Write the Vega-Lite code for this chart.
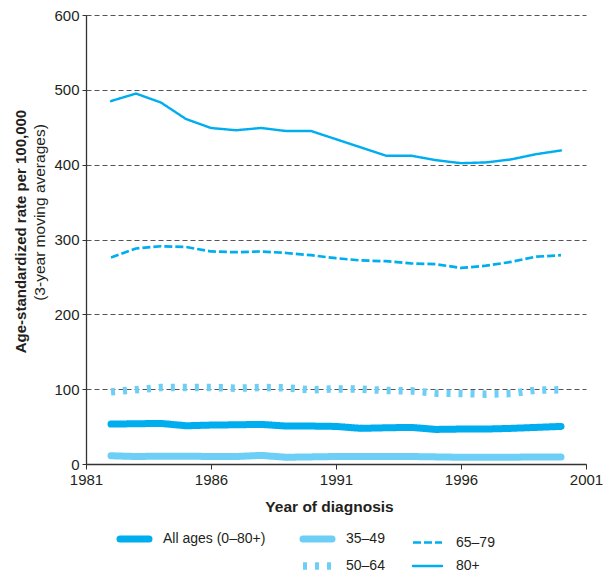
{
  "$schema": "https://vega.github.io/schema/vega-lite/v6.json",
  "width": 500,
  "height": 449,
  "autosize": "none",
  "padding": {"left": 86, "top": 15, "right": 17, "bottom": 111},
  "background": "white",
  "config": {
    "font": "Liberation Sans, Arial, sans-serif",
    "view": {"stroke": null},
    "axis": {
      "domainColor": "#333333",
      "domainWidth": 1.3,
      "tickColor": "#333333",
      "labelColor": "#231f20",
      "titleColor": "#231f20",
      "gridColor": "#555555",
      "gridDash": [5, 3],
      "gridWidth": 1
    }
  },
  "data": {
    "values": [
      {"year": 1982, "series": "80+", "rate": 485},
      {"year": 1983, "series": "80+", "rate": 495},
      {"year": 1984, "series": "80+", "rate": 483},
      {"year": 1985, "series": "80+", "rate": 461},
      {"year": 1986, "series": "80+", "rate": 449},
      {"year": 1987, "series": "80+", "rate": 446},
      {"year": 1988, "series": "80+", "rate": 449},
      {"year": 1989, "series": "80+", "rate": 445},
      {"year": 1990, "series": "80+", "rate": 445},
      {"year": 1991, "series": "80+", "rate": 434},
      {"year": 1992, "series": "80+", "rate": 423},
      {"year": 1993, "series": "80+", "rate": 412},
      {"year": 1994, "series": "80+", "rate": 412},
      {"year": 1995, "series": "80+", "rate": 406},
      {"year": 1996, "series": "80+", "rate": 402},
      {"year": 1997, "series": "80+", "rate": 403},
      {"year": 1998, "series": "80+", "rate": 407},
      {"year": 1999, "series": "80+", "rate": 414},
      {"year": 2000, "series": "80+", "rate": 419},
      {"year": 1982, "series": "65–79", "rate": 276},
      {"year": 1983, "series": "65–79", "rate": 288},
      {"year": 1984, "series": "65–79", "rate": 291},
      {"year": 1985, "series": "65–79", "rate": 290},
      {"year": 1986, "series": "65–79", "rate": 284},
      {"year": 1987, "series": "65–79", "rate": 283},
      {"year": 1988, "series": "65–79", "rate": 284},
      {"year": 1989, "series": "65–79", "rate": 282},
      {"year": 1990, "series": "65–79", "rate": 279},
      {"year": 1991, "series": "65–79", "rate": 275},
      {"year": 1992, "series": "65–79", "rate": 272},
      {"year": 1993, "series": "65–79", "rate": 271},
      {"year": 1994, "series": "65–79", "rate": 268},
      {"year": 1995, "series": "65–79", "rate": 267},
      {"year": 1996, "series": "65–79", "rate": 262},
      {"year": 1997, "series": "65–79", "rate": 265},
      {"year": 1998, "series": "65–79", "rate": 270},
      {"year": 1999, "series": "65–79", "rate": 277},
      {"year": 2000, "series": "65–79", "rate": 279},
      {"year": 1982, "series": "50–64", "rate": 96.4},
      {"year": 1983, "series": "50–64", "rate": 99.3},
      {"year": 1984, "series": "50–64", "rate": 102.2},
      {"year": 1985, "series": "50–64", "rate": 102.2},
      {"year": 1986, "series": "50–64", "rate": 102.2},
      {"year": 1987, "series": "50–64", "rate": 101.3},
      {"year": 1988, "series": "50–64", "rate": 102.2},
      {"year": 1989, "series": "50–64", "rate": 101.8},
      {"year": 1990, "series": "50–64", "rate": 99.1},
      {"year": 1991, "series": "50–64", "rate": 100.4},
      {"year": 1992, "series": "50–64", "rate": 100},
      {"year": 1993, "series": "50–64", "rate": 98.2},
      {"year": 1994, "series": "50–64", "rate": 97.8},
      {"year": 1995, "series": "50–64", "rate": 94.7},
      {"year": 1996, "series": "50–64", "rate": 94.2},
      {"year": 1997, "series": "50–64", "rate": 93.3},
      {"year": 1998, "series": "50–64", "rate": 94.2},
      {"year": 1999, "series": "50–64", "rate": 98.7},
      {"year": 2000, "series": "50–64", "rate": 99.1},
      {"year": 1982, "series": "All ages (0–80+)", "rate": 53.3},
      {"year": 1983, "series": "All ages (0–80+)", "rate": 53.8},
      {"year": 1984, "series": "All ages (0–80+)", "rate": 54.2},
      {"year": 1985, "series": "All ages (0–80+)", "rate": 51.1},
      {"year": 1986, "series": "All ages (0–80+)", "rate": 52},
      {"year": 1987, "series": "All ages (0–80+)", "rate": 52.4},
      {"year": 1988, "series": "All ages (0–80+)", "rate": 52.9},
      {"year": 1989, "series": "All ages (0–80+)", "rate": 50.7},
      {"year": 1990, "series": "All ages (0–80+)", "rate": 50.7},
      {"year": 1991, "series": "All ages (0–80+)", "rate": 50.2},
      {"year": 1992, "series": "All ages (0–80+)", "rate": 47.6},
      {"year": 1993, "series": "All ages (0–80+)", "rate": 48.4},
      {"year": 1994, "series": "All ages (0–80+)", "rate": 48.9},
      {"year": 1995, "series": "All ages (0–80+)", "rate": 46.2},
      {"year": 1996, "series": "All ages (0–80+)", "rate": 46.7},
      {"year": 1997, "series": "All ages (0–80+)", "rate": 46.7},
      {"year": 1998, "series": "All ages (0–80+)", "rate": 47.6},
      {"year": 1999, "series": "All ages (0–80+)", "rate": 48.9},
      {"year": 2000, "series": "All ages (0–80+)", "rate": 50.2},
      {"year": 1982, "series": "35–49", "rate": 11},
      {"year": 1983, "series": "35–49", "rate": 10},
      {"year": 1984, "series": "35–49", "rate": 10.5},
      {"year": 1985, "series": "35–49", "rate": 10.5},
      {"year": 1986, "series": "35–49", "rate": 10},
      {"year": 1987, "series": "35–49", "rate": 10},
      {"year": 1988, "series": "35–49", "rate": 11.5},
      {"year": 1989, "series": "35–49", "rate": 9},
      {"year": 1990, "series": "35–49", "rate": 9.5},
      {"year": 1991, "series": "35–49", "rate": 10},
      {"year": 1992, "series": "35–49", "rate": 10},
      {"year": 1993, "series": "35–49", "rate": 10},
      {"year": 1994, "series": "35–49", "rate": 10},
      {"year": 1995, "series": "35–49", "rate": 9.5},
      {"year": 1996, "series": "35–49", "rate": 9},
      {"year": 1997, "series": "35–49", "rate": 9},
      {"year": 1998, "series": "35–49", "rate": 9},
      {"year": 1999, "series": "35–49", "rate": 9.5},
      {"year": 2000, "series": "35–49", "rate": 9.5}
    ]
  },
  "encoding": {
    "x": {
      "field": "year",
      "type": "quantitative",
      "scale": {"domain": [1981, 2001], "nice": false, "zero": false},
      "axis": {
        "values": [1981, 1986, 1991, 1996, 2001],
        "format": "d",
        "grid": false,
        "labelFontSize": 15,
        "labelPadding": 3,
        "labelFlush": false,
        "tickSize": 5,
        "title": "Year of diagnosis",
        "titleFontSize": 15.5,
        "titleFontWeight": "bold",
        "titleX": 243,
        "titleY": 47,
        "titleBaseline": "alphabetic"
      }
    },
    "color": {
      "field": "series",
      "type": "nominal",
      "scale": {
        "domain": ["All ages (0–80+)", " ", "35–49", "50–64", "65–79", "80+"],
        "range": ["#00aeef", "rgba(0,0,0,0)", "#6dcff6", "#6dcff6", "#00aeef", "#00aeef"]
      },
      "legend": {
        "title": null,
        "orient": "none",
        "legendX": 30,
        "legendY": 514,
        "columns": 3,
        "symbolType": "stroke",
        "symbolSize": 841,
        "symbolStrokeWidth": 2,
        "labelFontSize": 14,
        "labelColor": "#231f20",
        "labelOffset": 10,
        "columnPadding": 22,
        "rowPadding": -2,
        "padding": 0,
        "symbolOpacity": 1,
        "encode": {
          "symbols": {
            "update": {
              "y": {"value": 10},
              "strokeWidth": [
                {"test": "datum.value === 'All ages (0–80+)' || datum.value === '35–49'", "value": 7},
                {"test": "datum.value === '50–64'", "value": 7.5},
                {"test": "datum.value === '65–79'", "value": 2.7},
                {"test": "datum.value === '80+'", "value": 2.4},
                {"value": 0}
              ],
              "strokeCap": [
                {"test": "datum.value === '50–64' || datum.value === '65–79'", "value": "butt"},
                {"value": "round"}
              ]
            }
          },
          "labels": {
            "update": {
              "y": {"value": 10}
            }
          }
        }
      }
    },
    "strokeWidth": {
      "field": "series",
      "type": "nominal",
      "legend": null,
      "scale": {
        "type": "ordinal",
        "domain": ["All ages (0–80+)", " ", "35–49", "50–64", "65–79", "80+"],
        "range": [7, 0, 7, 7.5, 2.7, 2.4]
      }
    },
    "strokeDash": {
      "field": "series",
      "type": "nominal",
      "scale": {
        "domain": ["All ages (0–80+)", " ", "35–49", "50–64", "65–79", "80+"],
        "range": [[1, 0], [1, 0], [1, 0], [4, 8], [8, 3], [1, 0]]
      }
    }
  },
  "layer": [
    {
      "transform": [{"filter": "datum.series === 'All ages (0–80+)' || datum.series === '35–49' || datum.series === '80+'"}],
      "mark": {"type": "line", "strokeCap": "round", "strokeJoin": "round"},
      "encoding": {
        "y": {
          "field": "rate",
          "type": "quantitative",
          "scale": {"domain": [0, 600], "nice": false},
          "axis": {
            "values": [0, 100, 200, 300, 400, 500, 600],
            "grid": true,
            "labelFontSize": 15,
            "labelPadding": 3,
            "tickSize": 4,
            "title": "(3-year moving averages)",
            "titleFontSize": 15.5,
            "titleFontWeight": "normal",
            "titleX": -42,
            "titleY": 197,
            "titleBaseline": "alphabetic"
          }
        }
      }
    },
    {
      "transform": [{"filter": "datum.series === '50–64' || datum.series === '65–79'"}],
      "mark": {"type": "line", "strokeCap": "butt", "strokeJoin": "round"},
      "encoding": {
        "y": {
          "field": "rate",
          "type": "quantitative",
          "scale": {"domain": [0, 600], "nice": false},
          "axis": {
            "orient": "left",
            "labels": false,
            "ticks": false,
            "domain": false,
            "grid": false,
            "title": "Age-standardized rate per 100,000",
            "titleFontSize": 15,
            "titleFontWeight": "bold",
            "titleX": -61,
            "titleY": 216,
            "titleBaseline": "alphabetic"
          }
        }
      }
    }
  ],
  "resolve": {"scale": {"y": "independent"}}
}
